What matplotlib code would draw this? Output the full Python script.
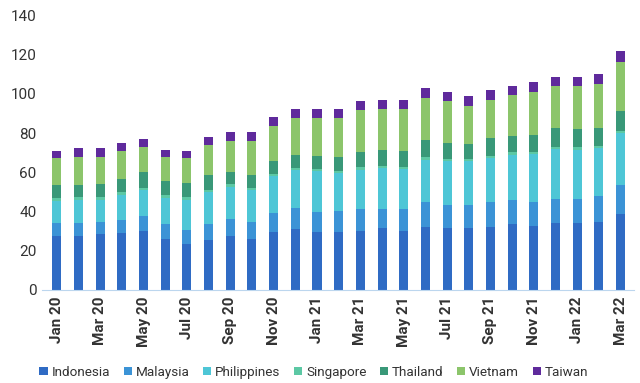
import matplotlib
matplotlib.use("Agg")
import matplotlib.pyplot as plt
import numpy as np

plt.rcParams['font.family'] = ['Liberation Sans Narrow', 'Roboto', 'DejaVu Sans']

# Данные по месяцам
months = ["Jan 20", "Feb 20", "Mar 20", "Apr 20", "May 20", "Jun 20", "Jul 20", "Aug 20", "Sep 20",
          "Oct 20", "Nov 20", "Dec 20", "Jan 21", "Feb 21", "Mar 21", "Apr 21", "May 21", "Jun 21",
          "Jul 21", "Aug 21", "Sep 21", "Oct 21", "Nov 21", "Dec 21", "Jan 22", "Feb 22", "Mar 22"]

indonesia = [27.6, 27.6, 28.5, 29.0, 30.0, 26.0, 23.4, 25.5, 27.6, 26.0, 29.7, 31.0, 29.7, 29.3,
             30.0, 31.5, 30.2, 32.2, 31.5, 31.5, 32.3, 33.6, 32.7, 34.0, 34.0, 34.6, 38.7]
malaysia = [6.6, 6.4, 6.2, 6.8, 7.5, 7.5, 7.3, 8.2, 8.7, 8.6, 9.5, 10.7, 10.0, 10.7,
            11.2, 9.9, 11.0, 12.4, 11.9, 11.9, 12.5, 12.4, 12.3, 12.5, 12.5, 13.1, 14.6]
philippines = [11.3, 12.0, 11.3, 12.7, 13.5, 13.5, 15.3, 16.3, 16.4, 16.1, 18.7, 19.3, 20.8, 19.6,
               20.1, 20.8, 20.5, 21.8, 22.3, 22.3, 22.4, 23.0, 24.3, 25.3, 25.0, 24.7, 26.7]
singapore = [1.2] * 27
thailand = [6.9, 6.4, 6.8, 6.9, 7.8, 7.5, 7.4, 7.2, 6.2, 6.5, 6.6, 6.8, 6.8, 7.0,
            7.8, 8.1, 8.1, 8.7, 8.0, 7.7, 9.0, 8.5, 8.7, 9.3, 9.1, 9.0, 9.9]
vietnam = [13.8, 14.4, 14.0, 14.4, 13.0, 12.3, 12.8, 15.3, 15.6, 17.3, 17.8, 18.4, 18.9, 19.6,
           21.2, 20.5, 21.3, 21.7, 21.3, 19.4, 19.6, 20.9, 21.7, 21.6, 22.1, 22.3, 25.2]
taiwan = [3.6, 4.5, 4.5, 4.0, 4.0, 3.5, 3.6, 4.1, 4.6, 4.6, 4.8, 4.9, 4.9, 4.9,
          4.7, 5.0, 4.7, 5.0, 4.7, 4.8, 4.7, 4.6, 4.9, 4.7, 4.7, 5.1, 5.7]

series = [
    ("Indonesia", indonesia, "#2f6bc4"),
    ("Malaysia", malaysia, "#3b93d6"),
    ("Philippines", philippines, "#4ec6d6"),
    ("Singapore", singapore, "#5cc8a4"),
    ("Thailand", thailand, "#399878"),
    ("Vietnam", vietnam, "#8cc56b"),
    ("Taiwan", taiwan, "#5f2a9c"),
]

fig, ax = plt.subplots(figsize=(6.4, 3.83), dpi=100)
fig.subplots_adjust(left=0.065, right=0.99, top=0.96, bottom=0.243)

x = np.arange(len(months))
bottom = np.zeros(len(months))
for name, vals, col in series:
    ax.bar(x, vals, width=0.42, bottom=bottom, color=col, label=name)
    bottom += np.array(vals)

ax.set_ylim(0, 140)
ax.set_yticks(range(0, 141, 20))
ax.set_xlim(-0.7, len(months) - 0.4)
ax.set_xticks(x[::2])
ax.set_xticklabels(months[::2], rotation=90, fontsize=11, fontweight='bold', color="#333333")
ax.tick_params(axis='y', labelsize=11, colors="#333333", length=0)
ax.tick_params(axis='x', length=0, pad=5)

for s in ["top", "right", "left"]:
    ax.spines[s].set_visible(False)
ax.spines["bottom"].set_color("#bcd6ee")

ax.legend(loc="center", bbox_to_anchor=(0.46, -0.30), ncol=7, frameon=False,
          fontsize=9.7, handlelength=0.6, handleheight=0.6, handletextpad=0.3, columnspacing=1.0,
          labelcolor="#333333")

fig.savefig("out.png", dpi=100)
